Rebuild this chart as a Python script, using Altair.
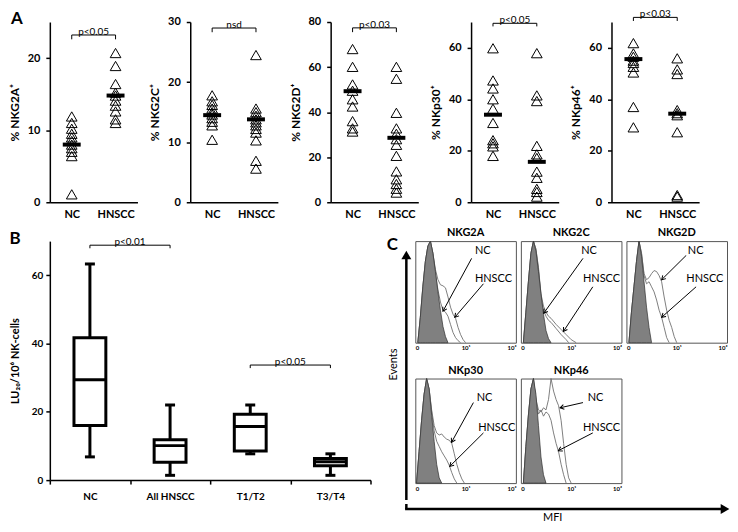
import math
import altair as alt
import pandas as pd

FONT = "Lato"
GROUPS = ["NC", "HNSCC"]

# ---------------- Panel A data (percent positive NK cells) ----------------
nkg2a_nc = [11.9, 11.0, 10.2, 9.5, 9.0, 8.5, 8.0, 7.5, 7.0, 6.4, 1.1]
nkg2a_hn = [20.7, 18.9, 16.4, 15.2, 14.8, 14.1, 13.4, 12.6, 11.5, 11.0]
nkg2a_center = [8.0, 14.8]

nkg2c_nc = [17.8, 16.8, 16.2, 15.6, 15.0, 14.6, 14.0, 13.4, 12.8, 10.4]
nkg2c_hn = [24.5, 15.6, 15.0, 14.4, 13.8, 13.3, 12.8, 12.2, 11.6, 10.3, 6.9, 5.6]
nkg2c_center = [14.5, 13.8]

nkg2d_nc = [68.0, 60.1, 52.3, 49.5, 45.7, 42.5, 36.0, 32.8, 31.4]
nkg2d_hn = [60.1, 54.8, 39.7, 32.8, 30.4, 28.0, 25.5, 20.6, 13.7, 10.2, 8.1, 6.0, 4.3]
nkg2d_center = [49.3, 28.6]

nkp30_nc = [59.8, 47.3, 44.2, 40.0, 36.3, 30.8, 24.1, 22.9, 21.7, 18.0]
nkp30_hn = [57.9, 41.5, 39.3, 21.9, 18.6, 17.2, 11.9, 9.5, 5.2, 4.0, 2.2]
nkp30_center = [34.0, 15.7]

nkp46_nc = [61.8, 57.8, 56.5, 55.0, 54.1, 52.6, 50.4, 37.0, 29.1]
nkp46_hn = [55.9, 51.6, 49.8, 35.8, 34.6, 33.8, 27.2, 2.8, 2.2]
nkp46_center = [55.6, 34.4]

# ---------------- Panel B data (LU20 / 10^6 NK cells) ----------------
b_cats = ["NC", "All HNSCC", "T1/T2", "T3/T4"]
b_min = [6.8, 1.4, 7.7, 1.4]
b_q1 = [16.0, 5.2, 8.5, 4.2]
b_med = [29.4, 10.1, 15.7, 5.4]
b_q3 = [41.7, 11.8, 19.3, 6.3]
b_max = [63.3, 22.0, 22.0, 7.7]
b_br_from = ["NC", "T1/T2"]
b_br_to = ["All HNSCC", "T3/T4"]
b_br_y = [68.8, 33.7]
b_br_end = [67.9, 32.8]
b_br_text = ["p<0.01", "p<0.05"]

# ---------------- Panel C data (flow histograms, % of max events) ----------------
hist_ticks = ["0", "10⁰", "10¹", "10²", "10³"]

g2a_iso_x = [0.1, 0.2, 0.3, 0.4, 0.5, 0.6, 0.7, 0.8, 0.9, 1.0, 1.1, 1.2, 1.3]
g2a_iso_y = [0, 25, 55, 80, 95, 100, 88, 70, 50, 32, 16, 6, 0]
g2a_nc_x = [0.1, 0.2, 0.3, 0.4, 0.5, 0.6, 0.7, 0.8, 0.9, 1.0, 1.1, 1.2, 1.3, 1.4, 1.5, 1.6, 1.7, 1.8]
g2a_nc_y = [0, 25, 55, 80, 95, 100, 88, 68, 52, 40, 32, 30, 26, 18, 10, 5, 2, 0]
g2a_hn_x = [0.1, 0.2, 0.3, 0.4, 0.5, 0.6, 0.7, 0.8, 0.9, 1.0, 1.1, 1.2, 1.3, 1.4, 1.5, 1.6, 1.7, 1.8, 1.9, 2.0]
g2a_hn_y = [0, 25, 55, 80, 95, 100, 88, 72, 62, 57, 56, 54, 45, 35, 28, 24, 15, 8, 3, 0]

g2c_iso_x = [0.1, 0.2, 0.3, 0.4, 0.5, 0.6, 0.7, 0.8, 0.9, 1.0, 1.1, 1.2]
g2c_iso_y = [0, 30, 60, 88, 100, 90, 70, 48, 28, 12, 4, 0]
g2c_nc_x = [0.1, 0.2, 0.3, 0.4, 0.5, 0.6, 0.7, 0.8, 0.9, 1.0, 1.1, 1.2, 1.4, 1.6, 1.8, 1.9]
g2c_nc_y = [0, 30, 60, 88, 100, 92, 72, 45, 32, 26, 22, 20, 14, 8, 3, 0]
g2c_hn_x = [0.1, 0.2, 0.3, 0.4, 0.5, 0.6, 0.7, 0.8, 0.9, 1.0, 1.1, 1.2, 1.4, 1.6, 1.8, 2.0, 2.2]
g2c_hn_y = [0, 30, 60, 88, 100, 92, 74, 48, 36, 30, 26, 24, 18, 13, 8, 3, 0]

g2d_iso_x = [0.1, 0.2, 0.3, 0.4, 0.5, 0.6, 0.7, 0.8, 0.9, 1.0]
g2d_iso_y = [0, 30, 55, 80, 100, 85, 60, 35, 15, 0]
g2d_nc_x = [0.1, 0.2, 0.3, 0.4, 0.5, 0.6, 0.7, 0.8, 0.9, 1.0, 1.1, 1.2, 1.3, 1.4, 1.5, 1.6, 1.7, 1.8, 1.9, 2.0]
g2d_nc_y = [0, 30, 55, 80, 100, 88, 68, 62, 64, 68, 71, 70, 66, 60, 45, 32, 22, 15, 6, 0]
g2d_hn_x = [0.1, 0.2, 0.3, 0.4, 0.5, 0.6, 0.7, 0.8, 0.9, 1.0, 1.1, 1.2, 1.3, 1.4, 1.5, 1.6, 1.7]
g2d_hn_y = [0, 30, 55, 80, 100, 88, 66, 58, 60, 55, 50, 42, 32, 25, 15, 5, 0]

p30_iso_x = [0.05, 0.15, 0.25, 0.35, 0.45, 0.55, 0.65, 0.75, 0.85, 0.95, 1.05]
p30_iso_y = [0, 30, 60, 85, 100, 90, 65, 40, 18, 5, 0]
p30_nc_x = [0.05, 0.15, 0.25, 0.35, 0.45, 0.55, 0.65, 0.75, 0.85, 0.95, 1.05, 1.15, 1.25, 1.35, 1.45, 1.55, 1.65, 1.75, 1.85, 1.95]
p30_nc_y = [0, 30, 60, 85, 100, 90, 70, 55, 48, 46, 47, 44, 42, 41, 38, 28, 18, 10, 4, 0]
p30_hn_x = [0.05, 0.15, 0.25, 0.35, 0.45, 0.55, 0.65, 0.75, 0.85, 0.95, 1.05, 1.15, 1.25, 1.35, 1.45, 1.55, 1.65]
p30_hn_y = [0, 30, 60, 85, 100, 90, 68, 50, 40, 35, 30, 26, 22, 17, 10, 4, 0]

p46_iso_x = [0.1, 0.2, 0.3, 0.4, 0.5, 0.6, 0.7, 0.8, 0.9, 1.0]
p46_iso_y = [0, 35, 65, 90, 100, 85, 55, 25, 8, 0]
p46_nc_x = [0.1, 0.2, 0.3, 0.4, 0.5, 0.6, 0.7, 0.8, 0.9, 1.0, 1.1, 1.2, 1.3, 1.4, 1.5, 1.6, 1.7, 1.8, 1.9, 2.0]
p46_nc_y = [0, 35, 65, 90, 100, 80, 70, 68, 72, 70, 80, 100, 88, 80, 74, 60, 38, 18, 5, 0]
p46_hn_x = [0.1, 0.2, 0.3, 0.4, 0.5, 0.6, 0.7, 0.8, 0.9, 1.0, 1.1, 1.2, 1.3, 1.4, 1.5, 1.6, 1.7, 1.8]
p46_hn_y = [0, 35, 65, 90, 100, 78, 66, 70, 64, 68, 66, 60, 48, 38, 30, 18, 8, 0]

# label anchor (x, y) and arrows (x1, y1, x2, y2) in histogram data units
g2a_labels = [(2.37, 90), (2.37, 63)]
g2a_arrows = [(2.24, 83, 1.1, 31), (2.71, 58, 1.57, 25)]
g2c_labels = [(2.4, 90), (2.47, 63)]
g2c_arrows = [(2.47, 83, 0.91, 29), (2.86, 55, 1.69, 11)]
g2d_labels = [(2.44, 90), (2.38, 63)]
g2d_arrows = [(2.38, 86, 1.4, 62), (2.77, 55, 1.4, 25)]
p30_labels = [(2.44, 81), (2.5, 53)]
p30_arrows = [(2.31, 77, 1.44, 39), (2.71, 48, 1.37, 16)]
p46_labels = [(2.66, 81), (2.47, 53)]
p46_arrows = [(2.47, 77, 1.56, 72), (2.86, 48, 1.49, 31)]

NO_FRAME = alt.ViewBackground(stroke="transparent", strokeWidth=0)


def dummy():
    return pd.DataFrame({"d": [0]})


def ghost(x, y):
    # invisible anchor used only to even out layout bounds
    return alt.Chart(dummy()).mark_point(opacity=0, size=1).encode(x=alt.value(x), y=alt.value(y))


# ---------------- Panel A ----------------
A_W, A_H = 88, 181


def a_panel(nc, hn, centers, ymax, step, ytitle, br_y, br_end, ptext, letter=None):
    pts = pd.DataFrame({"grp": ["NC"] * len(nc) + ["HNSCC"] * len(hn), "val": nc + hn})
    cen = pd.DataFrame({"grp": GROUPS, "val": centers})
    brk = pd.DataFrame({"g1": ["NC"], "g2": ["HNSCC"], "y": [br_y], "t": [ptext]})
    ends = pd.DataFrame({"grp": GROUPS, "y": [br_y, br_y], "y2": [br_end, br_end]})
    xs = alt.Scale(domain=GROUPS, type="point", padding=0.5)
    ys = alt.Scale(domain=[0, ymax], nice=False)
    xax = alt.Axis(title=None, ticks=False, labelAngle=0, labelFont=FONT, labelFontWeight="bold",
                   labelFontSize=11, labelColor="black", domainColor="black", domainWidth=1.5,
                   labelPadding=6, grid=False)
    yax = alt.Axis(title=ytitle, values=list(range(0, ymax + 1, step)), labelFont=FONT,
                   labelFontWeight="bold", labelFontSize=11, labelColor="black",
                   titleFont=FONT, titleFontWeight="bold", titleFontSize=12, titleColor="black",
                   domainColor="black", domainWidth=1.5, tickColor="black", tickWidth=1.5,
                   tickSize=4, labelPadding=6, titlePadding=6, grid=False)
    layers = [
        alt.Chart(pts).mark_point(shape="triangle-up", size=115, filled=False, color="black",
                                  strokeWidth=1, opacity=1).encode(
            x=alt.X("grp:N", scale=xs, axis=xax, sort=GROUPS),
            y=alt.Y("val:Q", scale=ys, axis=yax)),
        alt.Chart(cen).mark_tick(color="black", thickness=4, size=18, opacity=1).encode(
            x=alt.X("grp:N", scale=xs, sort=GROUPS), y=alt.Y("val:Q", scale=ys)),
        alt.Chart(brk).mark_rule(color="black", strokeWidth=1).encode(
            x=alt.X("g1:N", scale=xs, sort=GROUPS), x2=alt.X2("g2"), y=alt.Y("y:Q", scale=ys)),
        alt.Chart(ends).mark_rule(color="black", strokeWidth=1).encode(
            x=alt.X("grp:N", scale=xs, sort=GROUPS), y=alt.Y("y:Q", scale=ys), y2=alt.Y2("y2")),
        alt.Chart(brk).mark_text(font=FONT, fontSize=10, baseline="bottom", dy=2, color="black").encode(
            x=alt.value(A_W / 2), y=alt.Y("y:Q", scale=ys), text="t:N"),
    ]
    if letter:
        layers.append(alt.Chart(dummy()).mark_text(text=letter, font=FONT, fontSize=17, fontWeight="bold",
                                                   color="black").encode(x=alt.value(-33), y=alt.value(-3)))
    return alt.layer(*layers).properties(width=A_W, height=A_H, view=NO_FRAME)


a1 = a_panel(nkg2a_nc, nkg2a_hn, nkg2a_center, 25, 5, "% NKG2A⁺", 23.2, 22.6, "p<0.05", "A")
a2 = a_panel(nkg2c_nc, nkg2c_hn, nkg2c_center, 30, 5, "% NKG2C⁺", 29.0, 28.3, "nsd")
a3 = a_panel(nkg2d_nc, nkg2d_hn, nkg2d_center, 80, 10, "% NKG2D⁺", 77.4, 75.5, "p<0.03")
a4 = a_panel(nkp30_nc, nkp30_hn, nkp30_center, 70, 10, "% NKp30⁺", 69.5, 68.3, "p<0.05")
a5 = a_panel(nkp46_nc, nkp46_hn, nkp46_center, 70, 10, "% NKp46⁺", 71.8, 70.4, "p<0.03")

# ---------------- Panel B ----------------
B_W, B_H = 322, 240
bdf = pd.DataFrame({"cat": b_cats, "lo": b_min, "q1": b_q1, "med": b_med, "q3": b_q3, "hi": b_max})
bbr = pd.DataFrame({"c1": b_br_from, "c2": b_br_to, "y": b_br_y, "t": b_br_text})
bends = pd.DataFrame({"cat": b_br_from + b_br_to, "y": b_br_y + b_br_y, "y2": b_br_end + b_br_end})
bxs = alt.Scale(domain=b_cats, paddingInner=0, paddingOuter=0)
bys = alt.Scale(domain=[0, 70], nice=False)
bxax = alt.Axis(title=None, labelAngle=0, tickBand="extent", tickSize=4, tickColor="black", tickWidth=1.5,
                domainColor="black", domainWidth=1.5, labelFont=FONT, labelFontWeight="bold",
                labelFontSize=10, labelColor="black", labelPadding=7, grid=False)
byax = alt.Axis(title="LU₂₀/10⁶ NK-cells", values=list(range(0, 71, 10)), labelFont=FONT,
                labelFontWeight="bold", labelFontSize=10, labelColor="black", titleFont=FONT,
                titleFontWeight="bold", titleFontSize=11, titleColor="black", domainColor="black",
                domainWidth=1.5, tickColor="black", tickWidth=1.5, tickSize=4, labelPadding=3,
                titlePadding=11, grid=False)
bx = alt.X("cat:N", scale=bxs, axis=bxax, sort=b_cats)
b_chart = alt.layer(
    alt.Chart(bdf).mark_rule(color="black", strokeWidth=3).encode(x=bx, y=alt.Y("q3:Q", scale=bys, axis=byax), y2="hi"),
    alt.Chart(bdf).mark_rule(color="black", strokeWidth=3).encode(x=bx, y=alt.Y("lo:Q", scale=bys), y2="q1"),
    alt.Chart(bdf).mark_bar(size=32, fill="white", stroke="black", strokeWidth=3, opacity=1).encode(
        x=bx, y=alt.Y("q1:Q", scale=bys), y2="q3"),
    alt.Chart(bdf).mark_tick(color="black", thickness=3, size=32, opacity=1).encode(x=bx, y=alt.Y("med:Q", scale=bys)),
    alt.Chart(bdf).mark_tick(color="black", thickness=3, size=10, opacity=1).encode(x=bx, y=alt.Y("hi:Q", scale=bys)),
    alt.Chart(bdf).mark_tick(color="black", thickness=3, size=10, opacity=1).encode(x=bx, y=alt.Y("lo:Q", scale=bys)),
    alt.Chart(bbr).mark_rule(color="black", strokeWidth=1).encode(
        x=alt.X("c1:N", scale=bxs, sort=b_cats), x2=alt.X2("c2"), y=alt.Y("y:Q", scale=bys)),
    alt.Chart(bends).mark_rule(color="black", strokeWidth=1).encode(
        x=alt.X("cat:N", scale=bxs, sort=b_cats), y=alt.Y("y:Q", scale=bys), y2=alt.Y2("y2")),
    alt.Chart(bbr).mark_text(font=FONT, fontSize=10, baseline="bottom", dy=2, color="black").encode(
        x=alt.X("c1:N", scale=bxs, sort=b_cats, bandPosition=1), y=alt.Y("y:Q", scale=bys), text="t:N"),
    alt.Chart(dummy()).mark_text(text="B", font=FONT, fontSize=17, fontWeight="bold", color="black").encode(
        x=alt.value(-35), y=alt.value(-2)),
).properties(width=B_W, height=B_H, view=NO_FRAME)

# ---------------- Panel C ----------------
H_W = 101
ARROW = "M-0.6,1 L0,0 L0.6,1"
LABEL_EXPR = "[" + ",".join("'" + t + "'" for t in hist_ticks) + "][datum.value]"


def hist(title, h, iso_x, iso_y, nc_x, nc_y, hn_x, hn_y, labels, arrows, pad=None):
    area_df = pd.DataFrame({"x": iso_x, "y": iso_y})
    line_df = pd.DataFrame({"s": ["NC"] * len(nc_x) + ["HNSCC"] * len(hn_x), "x": nc_x + hn_x, "y": nc_y + hn_y})
    lab_df = pd.DataFrame({"t": ["NC", "HNSCC"], "x": [labels[0][0], labels[1][0]], "y": [labels[0][1], labels[1][1]]})
    angs = [math.degrees(math.atan2((a[2] - a[0]) * H_W / 4.0, (a[3] - a[1]) * h / 100.0)) % 360 for a in arrows]
    arr_df = pd.DataFrame({"x1": [a[0] for a in arrows], "y1": [a[1] for a in arrows],
                           "x2": [a[2] for a in arrows], "y2": [a[3] for a in arrows], "ang": angs})
    xs = alt.Scale(domain=[0, 4], nice=False, zero=False)
    ys = alt.Scale(domain=[0, 100], nice=False)
    xax = alt.Axis(title=None, values=[0, 1, 2, 3, 4], labelExpr=LABEL_EXPR, labelFont=FONT, labelFontSize=6,
                   labelFontWeight="bold", labelColor="black", ticks=False, domain=False, grid=False,
                   labelPadding=2, labelFlush=True)
    layers = [
        alt.Chart(line_df).mark_line(color="#707070", strokeWidth=0.9).encode(
            x=alt.X("x:Q", scale=xs, axis=xax), y=alt.Y("y:Q", scale=ys, axis=None), detail="s:N"),
        alt.Chart(area_df).mark_area(color="#808080", stroke="#303030", strokeWidth=0.7, opacity=1).encode(
            x=alt.X("x:Q", scale=xs), y=alt.Y("y:Q", scale=ys)),
        alt.Chart(arr_df).mark_rule(color="black", strokeWidth=1).encode(
            x=alt.X("x1:Q", scale=xs), y=alt.Y("y1:Q", scale=ys), x2="x2", y2="y2"),
        alt.Chart(arr_df).mark_point(shape=ARROW, size=60, filled=False, color="black", strokeWidth=1,
                                     opacity=1).encode(
            x=alt.X("x2:Q", scale=xs), y=alt.Y("y2:Q", scale=ys), angle=alt.Angle("ang:Q", scale=None)),
        alt.Chart(lab_df).mark_text(align="left", baseline="middle", font=FONT, fontSize=11, color="black").encode(
            x=alt.X("x:Q", scale=xs), y=alt.Y("y:Q", scale=ys), text="t:N"),
        alt.Chart(dummy()).mark_text(text=title, font=FONT, fontSize=11, fontWeight="bold", color="black",
                                     baseline="bottom").encode(x=alt.value(H_W / 2), y=alt.value(-3)),
    ]
    if pad is not None:
        layers.append(ghost(10, pad))
    return alt.layer(*layers).properties(
        width=H_W, height=h,
        view=alt.ViewBackground(stroke="#555555", strokeWidth=1),
    )


h1 = hist("NKG2A", 102, g2a_iso_x, g2a_iso_y, g2a_nc_x, g2a_nc_y, g2a_hn_x, g2a_hn_y, g2a_labels, g2a_arrows, pad=-19.5)
h2 = hist("NKG2C", 102, g2c_iso_x, g2c_iso_y, g2c_nc_x, g2c_nc_y, g2c_hn_x, g2c_hn_y, g2c_labels, g2c_arrows)
h3 = hist("NKG2D", 102, g2d_iso_x, g2d_iso_y, g2d_nc_x, g2d_nc_y, g2d_hn_x, g2d_hn_y, g2d_labels, g2d_arrows)
h4 = hist("NKp30", 105, p30_iso_x, p30_iso_y, p30_nc_x, p30_nc_y, p30_hn_x, p30_hn_y, p30_labels, p30_arrows)
h5 = hist("NKp46", 105, p46_iso_x, p46_iso_y, p46_nc_x, p46_nc_y, p46_hn_x, p46_hn_y, p46_labels, p46_arrows)

V_W, V_H = 20, 260
varrow = alt.layer(
    alt.Chart(dummy()).mark_rule(color="black", strokeWidth=2.5).encode(
        x=alt.value(V_W), y=alt.value(17), y2=alt.value(V_H)),
    alt.Chart(dummy()).mark_point(shape="triangle-up", filled=True, color="black", size=100, opacity=1).encode(
        x=alt.value(V_W), y=alt.value(14)),
    alt.Chart(dummy()).mark_text(text="Events", angle=270, font=FONT, fontSize=11, color="black").encode(
        x=alt.value(8), y=alt.value(124)),
    alt.Chart(dummy()).mark_text(text="C", font=FONT, fontSize=17, fontWeight="bold", color="black").encode(
        x=alt.value(6), y=alt.value(4)),
    ghost(10, -10),
).properties(width=V_W, height=V_H, view=NO_FRAME)

HA_W = 345
harrow = alt.layer(
    alt.Chart(dummy()).mark_rule(color="black", strokeWidth=2.5).encode(
        x=alt.value(V_W), y=alt.value(-5), y2=alt.value(0)),
    alt.Chart(dummy()).mark_rule(color="black", strokeWidth=2.5).encode(
        x=alt.value(V_W - 1.25), x2=alt.value(HA_W - 8), y=alt.value(0)),
    alt.Chart(dummy()).mark_point(shape="triangle-right", filled=True, color="black", size=100, opacity=1).encode(
        x=alt.value(HA_W - 5), y=alt.value(0)),
    alt.Chart(dummy()).mark_text(text="MFI", font=FONT, fontSize=11, color="black").encode(
        x=alt.value(167), y=alt.value(9)),
).properties(width=HA_W, height=14, view=NO_FRAME)

hrow1 = alt.hconcat(h1, h2, h3, spacing=5, bounds="flush")
hrow2 = alt.hconcat(h4, h5, spacing=5, bounds="flush")
hgrid = alt.vconcat(hrow1, hrow2, spacing=12)
c_row = alt.hconcat(varrow, hgrid, spacing=2)
c_panel = alt.vconcat(c_row, harrow, spacing=0)

top = alt.hconcat(a1, a2, a3, a4, a5, spacing=53, bounds="flush")
bottom = alt.hconcat(b_chart, c_panel, spacing=15)

chart = alt.vconcat(top, bottom, spacing=1, padding=0).configure_view(
    strokeWidth=0).configure(background="white")

chart.save("out.html", embed_options={"renderer": "svg", "actions": False})
